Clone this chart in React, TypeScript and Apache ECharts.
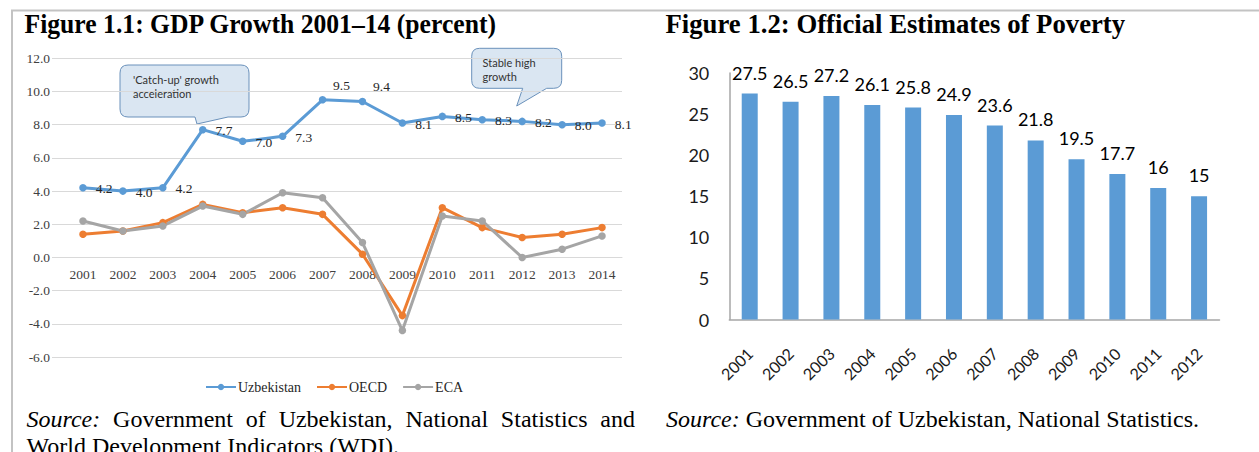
import React, { useEffect, useRef } from 'react';
import * as echarts from 'echarts';

// ---------- Data ----------
const gdpYears = ['2001', '2002', '2003', '2004', '2005', '2006', '2007', '2008', '2009', '2010', '2011', '2012', '2013', '2014'];
const uzbekistan = [4.2, 4.0, 4.2, 7.7, 7.0, 7.3, 9.5, 9.4, 8.1, 8.5, 8.3, 8.2, 8.0, 8.1];
const oecd = [1.4, 1.6, 2.1, 3.2, 2.7, 3.0, 2.6, 0.2, -3.5, 3.0, 1.8, 1.2, 1.4, 1.8];
const eca = [2.2, 1.6, 1.9, 3.1, 2.6, 3.9, 3.6, 0.9, -4.4, 2.5, 2.2, 0.0, 0.5, 1.3];
const gdpSeriesNames = ['Uzbekistan', 'OECD', 'ECA'];
const gdpAxis = { min: -6, max: 12, interval: 2 };

const povertyYears = ['2001', '2002', '2003', '2004', '2005', '2006', '2007', '2008', '2009', '2010', '2011', '2012'];
const poverty = [27.5, 26.5, 27.2, 26.1, 25.8, 24.9, 23.6, 21.8, 19.5, 17.7, 16, 15];
const povertyAxis = { min: 0, max: 30, interval: 5 };

const title1 = 'Figure 1.1: GDP Growth 2001–14 (percent)';
const title2 = 'Figure 1.2: Official Estimates of Poverty';
const callout1 = "'Catch-up' growth\nacceleration";
const callout2 = 'Stable high\ngrowth';
const source1Line1 = ['Source:', 'Government', 'of', 'Uzbekistan,', 'National', 'Statistics', 'and'];
const source1Line2 = 'World Development Indicators (WDI).';
const source2Rest = 'Government of Uzbekistan, National Statistics.';
const topLabelYears = ['2007', '2008'];

const SERIF = 'Liberation Serif';
const SANS = 'Lato';

echarts.graphic.registerShape(
  'callout1',
  echarts.graphic.extendPath(
    'M128,65 H241 Q249,65 249,73 V109 Q249,117 241,117 H228 L197,124 L195,117 H128 Q120,117 120,109 V73 Q120,65 128,65 Z',
    {}
  )
);
echarts.graphic.registerShape(
  'callout2',
  echarts.graphic.extendPath(
    'M479.7,48.3 H553.7 Q561.7,48.3 561.7,56.3 V80.3 Q561.7,88.3 553.7,88.3 H546.7 L516.7,106 L522.7,88.3 H479.7 Q471.7,88.3 471.7,80.3 V56.3 Q471.7,48.3 479.7,48.3 Z',
    {}
  )
);

function measure(text: string, font: string): number {
  const c = document.createElement('canvas').getContext('2d');
  if (!c) return text.length * 10;
  c.font = font;
  return c.measureText(text).width;
}

export default function App() {
  const ref = useRef<HTMLDivElement>(null);

  useEffect(() => {
    if (!ref.current) return;
    const chart = echarts.init(ref.current, undefined, { renderer: 'svg' });

    const srcSize = 24;
    const italicFont = `italic ${srcSize}px "${SERIF}"`;
    const normalFont = `${srcSize}px "${SERIF}"`;

    // justified first source line on the left
    const leftX = 26.5;
    const rightX = 635;
    const widths = source1Line1.map((w, i) => measure(w, i === 0 ? italicFont : normalFont));
    const total = widths.reduce((a, b) => a + b, 0);
    const gap = (rightX - leftX - total) / (source1Line1.length - 1);
    const justified: any[] = [];
    let cx = leftX;
    source1Line1.forEach((w, i) => {
      justified.push({
        type: 'text',
        x: cx,
        y: 418.5,
        silent: true,
        style: {
          text: w,
          fontFamily: SERIF,
          fontSize: srcSize,
          fontStyle: i === 0 ? 'italic' : 'normal',
          fill: '#000',
          verticalAlign: 'middle',
          align: 'left',
        },
      });
      cx += widths[i] + gap;
    });
    const sourceW = measure('Source: ', italicFont);

    const textBase = (x: number, y: number, text: string, extra: any = {}, el: any = {}) => ({
      type: 'text',
      x,
      y,
      silent: true,
      ...el,
      style: {
        text,
        fontFamily: SERIF,
        fontSize: srcSize,
        fill: '#000',
        verticalAlign: 'middle',
        align: 'left',
        ...extra,
      },
    });

    const uzbData = uzbekistan.map((v, i) =>
      topLabelYears.includes(gdpYears[i])
        ? { value: v, label: { position: 'top', distance: 4, offset: [19, 0] } }
        : v
    );

    const lineSeries = (name: string, data: any[], color: string, withLabel: boolean) => ({
      type: 'line',
      name,
      xAxisIndex: 1,
      yAxisIndex: 1,
      data,
      symbol: 'circle',
      symbolSize: 7.5,
      lineStyle: { color, width: 3 },
      itemStyle: { color },
      label: withLabel
        ? {
            show: true,
            position: 'right',
            distance: 9,
            offset: [0, 1],
            fontFamily: SERIF,
            fontSize: 13.5,
            color: '#262626',
            formatter: (p: any) => Number(p.value).toFixed(1),
          }
        : { show: false },
      emphasis: { disabled: true },
    });

    // plot geometry of the GDP panel
    const gTop = 58.3;
    const gHeight = 298.8;
    const zeroHeight = (gHeight * (gdpAxis.max - 0)) / (gdpAxis.max - gdpAxis.min);

    const option: any = {
      animation: false,
      backgroundColor: '#fff',
      grid: [
        { left: 52, top: gTop, width: 570, height: gHeight, containLabel: false, outerBoundsMode: 'none' },
        { left: 63, top: gTop, width: 559, height: gHeight, containLabel: false, outerBoundsMode: 'none' },
        { left: 729.3, top: 73, width: 490.2, height: 246.5, containLabel: false, outerBoundsMode: 'none' },
        // grid ending at the zero line, only for the category labels of the GDP panel
        { left: 63, top: gTop, width: 559, height: zeroHeight, containLabel: false, outerBoundsMode: 'none' },
      ],
      xAxis: [
        { gridIndex: 0, type: 'value', show: false, min: 0, max: 1 },
        {
          gridIndex: 1,
          type: 'category',
          data: gdpYears,
          boundaryGap: true,
          axisLine: { show: false },
          axisTick: { show: false },
          axisLabel: { show: false },
          splitLine: { show: false },
        },
        {
          gridIndex: 2,
          type: 'category',
          data: povertyYears,
          boundaryGap: true,
          axisLine: { lineStyle: { color: '#a6a6a6', width: 1.5 } },
          axisTick: { show: false },
          axisLabel: { fontFamily: SANS, fontSize: 16, color: '#1a1a1a', rotate: 45, margin: 31, interval: 0 },
        },
        {
          gridIndex: 3,
          type: 'category',
          data: gdpYears,
          boundaryGap: true,
          position: 'bottom',
          axisLine: { show: true, onZero: false, lineStyle: { color: '#d9d9d9', width: 1 } },
          axisTick: { show: false },
          axisLabel: { fontFamily: SERIF, fontSize: 13.5, color: '#404040', margin: 10, interval: 0 },
          splitLine: { show: false },
        },
      ],
      yAxis: [
        {
          gridIndex: 0,
          type: 'value',
          min: gdpAxis.min,
          max: gdpAxis.max,
          interval: gdpAxis.interval,
          axisLine: { show: false },
          axisTick: { show: false },
          axisLabel: {
            fontFamily: SERIF,
            fontSize: 13.5,
            color: '#404040',
            margin: 2,
            formatter: (v: number) => v.toFixed(1),
          },
          splitLine: { lineStyle: { color: '#d9d9d9', width: 1 } },
        },
        { gridIndex: 1, type: 'value', min: gdpAxis.min, max: gdpAxis.max, interval: gdpAxis.interval, show: false },
        {
          gridIndex: 2,
          type: 'value',
          min: povertyAxis.min,
          max: povertyAxis.max,
          interval: povertyAxis.interval,
          axisLine: { show: true, lineStyle: { color: '#a6a6a6', width: 1.5 } },
          axisTick: { show: false },
          axisLabel: { fontFamily: SANS, fontSize: 18, color: '#1a1a1a', margin: 20 },
          splitLine: { show: false },
        },
        { gridIndex: 3, type: 'value', min: 0, max: gdpAxis.max, show: false },
      ],
      legend: {
        data: gdpSeriesNames,
        left: 200,
        top: 375,
        itemWidth: 30,
        itemHeight: 8,
        itemGap: 15,
        textStyle: { fontFamily: SERIF, fontSize: 14, color: '#262626', padding: [0, 0, 0, -3] },
      },
      series: [
        lineSeries(gdpSeriesNames[0], uzbData, '#5b9bd5', true),
        lineSeries(gdpSeriesNames[1], oecd, '#ed7d31', false),
        lineSeries(gdpSeriesNames[2], eca, '#a5a5a5', false),
        {
          type: 'bar',
          name: 'Poverty',
          xAxisIndex: 2,
          yAxisIndex: 2,
          data: poverty,
          barWidth: 16,
          itemStyle: { color: '#5b9bd5' },
          label: {
            show: true,
            position: 'top',
            distance: 12,
            fontFamily: SANS,
            fontSize: 18,
            color: '#000',
          },
          emphasis: { disabled: true },
        },
      ],
      graphic: [
        // frame
        { type: 'line', silent: true, shape: { x1: 11, y1: 10.5, x2: 1259, y2: 10.5 }, style: { stroke: '#c3c3c3', lineWidth: 2 } },
        { type: 'line', silent: true, shape: { x1: 12, y1: 10, x2: 12, y2: 452 }, style: { stroke: '#c3c3c3', lineWidth: 2 } },
        // titles
        textBase(24.5, 24, title1, { fontSize: 27, fontWeight: 'bold' }, { scaleX: 0.95 }),
        textBase(665.5, 24, title2, { fontSize: 27, fontWeight: 'bold' }, { scaleX: 0.99 }),
        // callouts
        { type: 'callout1', x: 0, y: 0, silent: true, style: { fill: '#dae6f2', stroke: '#6a91bb', lineWidth: 1 } },
        { type: 'callout2', x: 0, y: 0, silent: true, style: { fill: '#dae6f2', stroke: '#6a91bb', lineWidth: 1 } },
        textBase(133, 86.5, callout1, { fontFamily: SANS, fontSize: 11, fill: '#333', lineHeight: 13.5 }),
        textBase(482.5, 69.5, callout2, { fontFamily: SANS, fontSize: 11, fill: '#333', lineHeight: 13.5 }),
        // sources
        ...justified,
        textBase(26.5, 446, source1Line2),
        textBase(666, 418.5, 'Source:', { fontStyle: 'italic' }),
        textBase(666 + sourceW, 418.5, source2Rest),
      ],
    };

    chart.setOption(option);
    return () => {
      chart.dispose();
    };
  }, []);

  return (
    <div
      ref={ref}
      style={{ position: 'fixed', left: 0, top: 0, width: 1259, height: 452, background: '#fff' }}
    />
  );
}
